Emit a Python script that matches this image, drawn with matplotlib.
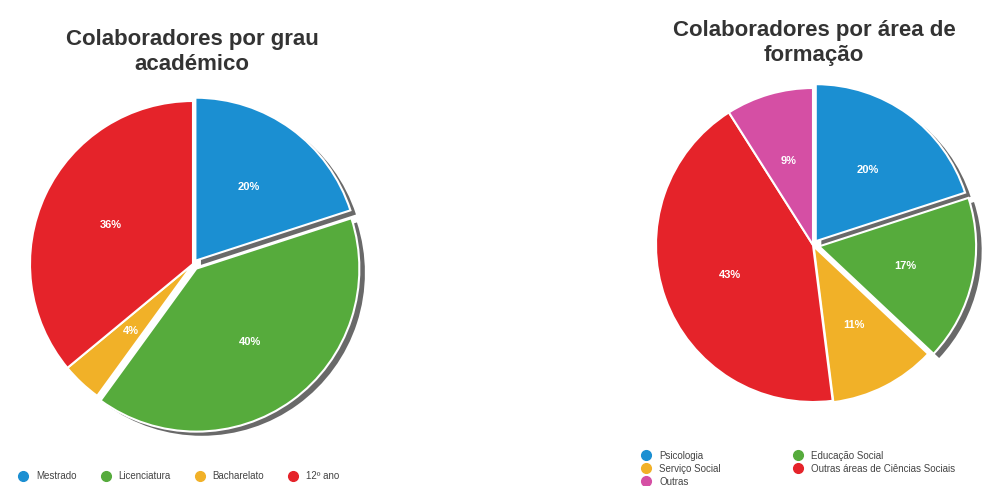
import matplotlib
matplotlib.use('Agg')
import matplotlib.pyplot as plt
import matplotlib.patheffects as pe
from matplotlib.lines import Line2D

plt.rcParams['font.family'] = ['Liberation Sans Narrow', 'Liberation Sans', 'DejaVu Sans']

# grau academico
grau_labels = ['Mestrado', 'Licenciatura', 'Bacharelato', '12º ano']
grau_values = [20, 40, 4, 36]
grau_colors = ['#1b8fd2', '#56ab3c', '#f1b128', '#e5232a']
grau_explode = [0.025, 0.035, 0.0, 0.0]

# area de formacao
area_labels = ['Psicologia', 'Educação Social', 'Serviço Social',
               'Outras áreas de Ciências Sociais', 'Outras']
area_values = [20, 17, 11, 43, 9]
area_colors = ['#1b8fd2', '#56ab3c', '#f1b128', '#e5232a', '#d54fa4']
area_explode = [0.03, 0.04, 0.01, 0.0, 0.0]

W, H = 995, 486
LIM = 1.15
fig = plt.figure(figsize=(W / 100, H / 100), dpi=100)


def pie_axes(cx, cy, r):
    # cx, cy in pixels from top-left, r radius in pixels
    half = r * LIM
    ax = fig.add_axes([(cx - half) / W, (H - cy - half) / H, 2 * half / W, 2 * half / H])
    ax.axis('off')
    return ax


def draw_pie(ax, values, colors, explode, shadow_idx):
    wedges, texts, autotexts = ax.pie(
        values, colors=colors, explode=explode, startangle=90, counterclock=False,
        autopct='%d%%', pctdistance=0.56,
        wedgeprops=dict(edgecolor='white', linewidth=1.5),
        textprops=dict(color='white', fontsize=8, fontweight='bold'))
    for i in shadow_idx:
        wedges[i].set_path_effects([
            pe.SimplePatchShadow(offset=(4, -3), shadow_rgbFace='#2a2a2a', alpha=0.7),
            pe.Normal()])
    ax.set_xlim(-LIM, LIM)
    ax.set_ylim(-LIM, LIM)
    ax.set_aspect('equal')
    return wedges


ax1 = pie_axes(193, 264, 163)
w1 = draw_pie(ax1, grau_values, grau_colors, grau_explode, [0, 1])

ax2 = pie_axes(813, 245, 157)
w2 = draw_pie(ax2, area_values, area_colors, area_explode, [0, 1])

fig.text(192 / W, 1 - 52 / H, 'Colaboradores por grau\nacadémico', ha='center', va='center',
         fontsize=16, fontweight='bold', color='#333333', linespacing=1.2)
fig.text(814 / W, 1 - 43 / H, 'Colaboradores por área de\nformação', ha='center', va='center',
         fontsize=16, fontweight='bold', color='#333333', linespacing=1.2)


def handle(c):
    return Line2D([], [], marker='o', linestyle='none', markersize=7,
                  markerfacecolor=c, markeredgecolor=c)


fig.legend([handle(c) for c in grau_colors], grau_labels, ncol=4,
           loc='center left', bbox_to_anchor=(5 / W, 1 - 476 / H), frameon=False,
           fontsize=7, labelcolor='#444444', handletextpad=0.3, columnspacing=2.0)

order = [0, 2, 4, 1, 3]
fig.legend([handle(area_colors[i]) for i in order], [area_labels[i] for i in order], ncol=2,
           loc='upper left', bbox_to_anchor=(628 / W, 1 - 442 / H), frameon=False,
           fontsize=7, labelcolor='#444444', handletextpad=0.3, columnspacing=7.0,
           labelspacing=0.3)

fig.savefig('out.png', dpi=100)
